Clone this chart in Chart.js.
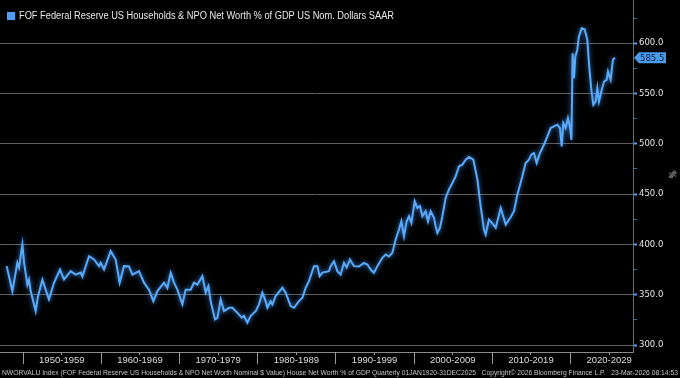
<!DOCTYPE html>
<html>
<head>
<meta charset="utf-8">
<script src="https://cdn.jsdelivr.net/npm/chart.js@4.4.1/dist/chart.umd.min.js"></script>
<style>
  html, body { margin:0; padding:0; background:#000; }
  #wrap { position:relative; width:680px; height:378px; background:#000; overflow:hidden; }
  #c { position:absolute; left:0; top:0; }
  .txt { position:absolute; white-space:nowrap; transform-origin:0 50%; }
  #legend { left:19px; top:9px; font:10px 'Liberation Sans', Arial, sans-serif; color:#e8e8e8; line-height:14px; }
  #legsq { position:absolute; left:7px; top:12px; width:8px; height:8px; background:#4a9ff2; }
  #footer { left:2px; top:367px; font:7.5px 'Liberation Sans', Arial, sans-serif; color:#c4c4c4; line-height:11px; }
  #pct { left:668px; top:170px; font:8px 'DejaVu Sans', sans-serif; color:#dcdcdc; transform:rotate(90deg); transform-origin:50% 50%; }
</style>
</head>
<body>
<div id="wrap">
  <canvas id="c" width="680" height="378"></canvas>
  <div id="legsq"></div>
  <div id="legend" class="txt">FOF Federal Reserve US Households &amp; NPO Net Worth % of GDP US Nom. Dollars SAAR</div>
  <div id="pct" class="txt">%</div>
  <div id="footer" class="txt">NWORVALU Index (FOF Federal Reserve US Households &amp; NPO Net Worth Nominal $ Value) House Net Worth % of GDP Quarterly 01JAN1920-31DEC2025&nbsp;&nbsp; Copyright© 2026 Bloomberg Finance L.P.&nbsp;&nbsp; 23-Mar-2026 08:14:53</div>
</div>
<script>
// ---- data ----
const years = [
1947.95,1948.68,1949.32,1949.53,1949.96,1950.17,1950.6,1950.8,1951.02,1951.66,1951.96,1952.52,1953.36,1954.0,1954.77,1955.28,1956.14,1956.78,1957.42,1957.63,1958.48,1959.12,1959.76,1959.97,1960.4,1961.25,1961.89,1962.4,1962.95,1963.59,1964.03,1964.87,1965.51,1966.15,1966.71,1967.23,1968.07,1968.5,1968.93,
1969.35,1969.78,1970.42,1970.84,1971.48,1971.91,1972.34,1972.98,1973.4,1973.75,1974.04,1974.59,1974.9,1975.32,1975.74,1976.38,1976.82,1977.46,1978.01,1978.3,1978.73,1979.16,1979.8,1980.22,1980.65,1981.07,1981.29,1981.71,1981.93,1982.35,1983.21,1983.63,1984.27,1984.69,1985.33,1985.77,1986.19,1986.61,1987.25,1987.69,1987.98,1988.33,1989.17,
1989.39,1989.81,1990.24,1990.66,1991.09,1991.43,1991.85,1992.37,1993.0,1993.64,1994.08,1994.5,1994.92,1995.36,1996.0,1996.42,1996.84,1997.28,1997.7,1998.12,1998.43,1998.76,1999.1,1999.4,1999.71,2000.13,2000.47,2000.81,2001.11,2001.53,2001.83,2002.17,2002.6,2002.81,2003.03,2003.36,2003.67,2004.09,2004.51,2004.95,2005.37,2005.79,2006.23,2006.65,2007.07,2007.63,2008.15,2008.57,2008.99,2009.21,
2009.63,2010.06,2010.49,2011.13,2011.77,2012.4,2012.83,2013.26,2013.9,2014.32,2014.74,2015.05,2015.38,2015.73,2016.15,2016.66,2017.1,2017.52,2017.94,2018.38,2018.71,2018.93,2019.14,2019.44,2019.73,2019.99,2020.17,2020.33,2020.5,2020.67,2020.92,2021.13,2021.48,2021.87,2022.21,2022.42,2022.72,2022.98,2023.27,2023.49,2023.7,2024.0,2024.34,2024.68,2024.85,2025.19,2025.48,2025.75];
const netWorthPctGdp = [
378.4,353.6,381.7,377.0,400.0,382.0,360.0,365.0,353.6,333.7,348.6,365.0,345.3,361.9,375.0,365.0,373.4,370.0,372.0,368.0,388.3,385.0,378.4,381.7,375.0,393.3,385.0,362.0,378.4,378.0,370.0,373.4,362.0,355.0,343.6,353.6,362.0,356.6,371.8,
362.0,355.0,340.4,355.0,355.0,362.0,360.0,368.5,352.0,358.5,343.6,325.5,327.0,345.3,333.7,337.0,337.0,332.0,327.2,329.0,322.2,329.0,333.7,340.4,352.0,343.6,337.0,343.6,340.4,348.6,357.0,352.0,338.7,337.0,343.6,347.0,357.0,363.5,378.4,378.4,368.5,372.0,373.4,
378.4,383.3,373.4,370.0,381.7,377.0,385.0,378.4,378.0,381.7,380.0,375.0,371.8,378.4,386.7,390.0,388.0,391.7,404.9,414.8,423.0,408.0,423.0,428.0,421.5,442.9,436.3,438.0,428.0,433.0,423.0,433.0,426.4,418.0,411.5,416.5,428.0,446.2,454.5,461.1,467.7,477.6,479.3,484.2,486.9,484.2,464.4,437.9,414.8,409.8,
424.7,421.0,416.5,436.3,419.7,427.0,433.0,449.5,467.7,481.0,484.2,489.2,490.9,481.0,490.9,499.1,507.3,515.7,517.3,519.0,515.7,497.4,520.6,515.7,525.6,517.0,504.0,590.0,565.3,586.7,593.3,606.5,614.9,613.9,603.3,580.2,553.7,538.8,542.1,555.4,542.0,552.0,561.9,563.6,571.8,563.6,583.5,585.5];
const decadeStarts = [1950,1960,1970,1980,1990,2000,2010,2020];
const decadeLabels = ['1950-1959','1960-1969','1970-1979','1980-1989','1990-1999','2000-2009','2010-2019','2020-2029'];
const yMajorTicks = [300,350,400,450,500,550,600];
const yMinorTicks = [325,375,425,475,525,575,625];

// ---- plugins ----
const glow = {
  id:'glow',
  beforeDatasetDraw(chart){ const c=chart.ctx; c.save(); c.shadowColor='rgba(70,150,255,0.85)'; c.shadowBlur=5; },
  afterDatasetDraw(chart){ chart.ctx.restore(); }
};
const extras = {
  id:'extras',
  afterDraw(chart){
    const c = chart.ctx, xs = chart.scales.x, ys = chart.scales.y, a = chart.chartArea;
    c.save();
    // decade separators
    c.strokeStyle = '#9a9a9a'; c.lineWidth = 1;
    decadeStarts.forEach(d => {
      const px = Math.round(xs.getPixelForValue(d)) + 0.5;
      c.beginPath(); c.moveTo(px, a.bottom); c.lineTo(px, a.bottom + 12); c.stroke();
    });
    // last value label
    const last = netWorthPctGdp[netWorthPctGdp.length - 1];
    const py = ys.getPixelForValue(last);
    const x0 = a.right + 1;
    c.fillStyle = '#4b9bec';
    c.beginPath();
    c.moveTo(x0, py); c.lineTo(x0 + 5, py - 5.5); c.lineTo(x0 + 32, py - 5.5);
    c.lineTo(x0 + 32, py + 5.5); c.lineTo(x0 + 5, py + 5.5); c.closePath(); c.fill();
    c.fillStyle = '#0a1f3d';
    c.font = "8.5px 'DejaVu Sans', sans-serif";
    c.textBaseline = 'middle'; c.textAlign = 'left';
    c.fillText(last.toFixed(1), x0 + 6, py + 0.5);
    c.restore();
  }
};

const xMin = 1947.097, xMax = 2028.05;
const yMin = 293.06, yMax = 642.96;

new Chart(document.getElementById('c'), {
  type:'line',
  data:{ datasets:[{
    data: years.map((y,i)=>({x:y, y:netWorthPctGdp[i]})),
    borderColor:'#5aaaf8', borderWidth:2, pointRadius:0, tension:0, fill:false
  }]},
  options:{
    responsive:false, animation:false, devicePixelRatio:1,
    layout:{ padding:0 },
    plugins:{ legend:{display:false}, tooltip:{enabled:false}, title:{display:false} },
    scales:{
      x:{
        type:'linear', position:'bottom', min:xMin, max:xMax,
        afterBuildTicks(s){ s.ticks = decadeStarts.map(d=>({value:d+5})); },
        afterFit(s){ s.height = 26; s.paddingLeft = 0; s.paddingRight = 0; },
        ticks:{
          autoSkip:false, maxRotation:0, padding:0, color:'#dedede',
          font:{family:"'Liberation Sans', Arial, sans-serif", size:9.5},
          callback(v){ const i = decadeStarts.indexOf(Math.round(v-5)); return i>=0 ? decadeLabels[i] : ''; }
        },
        grid:{ display:true, drawOnChartArea:false, drawTicks:true, tickLength:3, tickColor:'#9a9a9a', color:'#9a9a9a' },
        border:{ display:true, color:'#8a8a8a', width:1 }
      },
      y:{
        type:'linear', position:'right', min:yMin, max:yMax,
        afterBuildTicks(s){ s.ticks = yMajorTicks.concat(yMinorTicks).sort((a,b)=>a-b).map(v=>({value:v})); },
        afterFit(s){ s.width = 47; s.paddingTop = 0; s.paddingBottom = 0; },
        ticks:{
          autoSkip:false, padding:2, color:'#e6e6e6',
          font:{family:"'DejaVu Sans', sans-serif", size:8.5},
          callback(v){ return yMajorTicks.includes(v) ? v.toFixed(1) : ''; }
        },
        grid:{
          display:true, drawOnChartArea:true, drawTicks:true, tickLength:4,
          color(ctx){ return ctx.tick && yMajorTicks.includes(ctx.tick.value) ? '#606060' : 'rgba(0,0,0,0)'; },
          tickColor(ctx){ return ctx.tick && yMajorTicks.includes(ctx.tick.value) ? '#5d9be0' : '#3c6aa5'; },
          tickWidth(ctx){ return ctx.tick && yMajorTicks.includes(ctx.tick.value) ? 2 : 1; },
          lineWidth:1
        },
        border:{ display:true, color:'#3f74b8', width:1 }
      }
    }
  },
  plugins:[glow, extras]
});

// fit overlay texts to reference widths
function fitWidth(id, target){
  const el = document.getElementById(id);
  const w = el.getBoundingClientRect().width;
  if (w > 0) el.style.transform = 'scaleX(' + (target / w) + ')';
}
fitWidth('legend', 375);
fitWidth('footer', 676);
</script>
</body>
</html>
